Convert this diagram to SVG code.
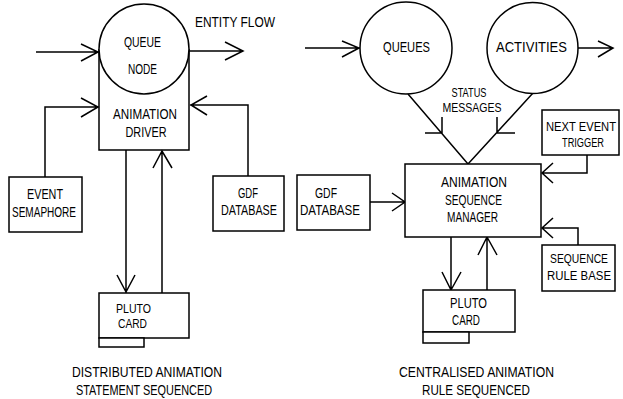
<svg xmlns="http://www.w3.org/2000/svg" width="623" height="399" viewBox="0 0 623 399">
<style>
.s{fill:none;stroke:#000;stroke-width:1.5;stroke-linejoin:miter;stroke-linecap:butt}
.b{fill:#fff;stroke:#000;stroke-width:1.5}
text{font-family:"Liberation Sans Narrow","Liberation Sans",Arial,sans-serif;font-size:15px;fill:#000;text-anchor:middle}
text.t{font-size:13.5px}
text.n{font-size:12px}
text.r{font-size:12.5px}
</style>
<rect width="623" height="399" fill="#fff"/>
<g id="connectors">
<path class="s" d="M36,52 H99 M81,44 L98,52 L81,61"/>
<path class="s" d="M189,51 H243 M225,42 L243,51 L225,60"/>
<path class="s" d="M45,177 V107 H99 M81,98 L98,107 L81,117"/>
<path class="s" d="M248,176 V105 H190 M207,96 L191,105 L207,115"/>
<path class="s" d="M126,150 V293 M117,275 L126,292 L135,275"/>
<path class="s" d="M162,293 V151 M153,168 L162,151 L172,168"/>
<path class="s" d="M305,48 H360 M342,41 L359,48 L342,57"/>
<path class="s" d="M578,48 H613 M598,41 L613,48 L598,57"/>
<path class="s" d="M408,94 L468,164 M442,117 V133 H425"/>
<path class="s" d="M533,93 L468,164 M497,117 V133 H515"/>
<path class="s" d="M587,155 V173 H542 M553,163 L542,173 L553,183"/>
<path class="s" d="M578,245 V228 H542 M553,218 L542,228 L553,238"/>
<path class="s" d="M370,202 H405 M392,193 L405,202 L392,211"/>
<path class="s" d="M451,237 V290 M442,272 L451,290 L461,272"/>
<path class="s" d="M487,290 V237 M478,255 L487,237 L497,255"/>
</g>
<g id="entity-flow-label"><text x="235" y="27" textLength="80" lengthAdjust="spacingAndGlyphs">ENTITY FLOW</text></g>
<g id="status-messages-label">
<text class="t" x="469" y="97" textLength="35" lengthAdjust="spacingAndGlyphs">STATUS</text>
<text class="t" x="472" y="112" textLength="59" lengthAdjust="spacingAndGlyphs">MESSAGES</text>
</g>
<g id="animation-driver">
<path class="s" d="M99,49 V150 H189 V49"/>
<text x="145" y="119" textLength="64" lengthAdjust="spacingAndGlyphs">ANIMATION</text>
<text x="146" y="137" textLength="41" lengthAdjust="spacingAndGlyphs">DRIVER</text>
</g>
<g id="queue-node">
<circle class="b" cx="144" cy="49" r="45"/>
<text x="142.5" y="47" textLength="37" lengthAdjust="spacingAndGlyphs">QUEUE</text>
<text x="142.5" y="74" textLength="29" lengthAdjust="spacingAndGlyphs">NODE</text>
</g>
<g id="event-semaphore">
<rect class="b" x="9" y="177" width="73" height="55"/>
<text x="45" y="199" textLength="36" lengthAdjust="spacingAndGlyphs">EVENT</text>
<text x="44" y="217" textLength="64" lengthAdjust="spacingAndGlyphs">SEMAPHORE</text>
</g>
<g id="gdf-database-left">
<rect class="b" x="213" y="176" width="71" height="55"/>
<text x="248" y="198" textLength="20" lengthAdjust="spacingAndGlyphs">GDF</text>
<text x="249" y="215" textLength="56" lengthAdjust="spacingAndGlyphs">DATABASE</text>
</g>
<g id="pluto-card-left">
<rect class="b" x="99" y="293" width="90" height="45"/>
<rect class="b" x="99" y="338" width="45" height="9"/>
<text class="t" x="133.5" y="313" textLength="35" lengthAdjust="spacingAndGlyphs">PLUTO</text>
<text class="t" x="132.5" y="328" textLength="29" lengthAdjust="spacingAndGlyphs">CARD</text>
</g>
<g id="caption-left">
<text x="147" y="377" textLength="150" lengthAdjust="spacingAndGlyphs">DISTRIBUTED ANIMATION</text>
<text x="144" y="395" textLength="136" lengthAdjust="spacingAndGlyphs">STATEMENT SEQUENCED</text>
</g>
<g id="queues">
<circle class="b" cx="406" cy="48" r="46"/>
<text x="406.5" y="52" textLength="47" lengthAdjust="spacingAndGlyphs">QUEUES</text>
</g>
<g id="activities">
<circle class="b" cx="532.5" cy="48" r="45.5"/>
<text x="531.5" y="52" textLength="71" lengthAdjust="spacingAndGlyphs">ACTIVITIES</text>
</g>
<g id="animation-sequence-manager">
<rect class="b" x="405" y="164" width="136" height="73"/>
<text x="474" y="187" textLength="66" lengthAdjust="spacingAndGlyphs">ANIMATION</text>
<text x="473.5" y="205" textLength="57" lengthAdjust="spacingAndGlyphs">SEQUENCE</text>
<text x="472.5" y="222" textLength="51" lengthAdjust="spacingAndGlyphs">MANAGER</text>
</g>
<g id="gdf-database-right">
<rect class="b" x="297" y="175" width="73" height="55"/>
<text x="326" y="198" textLength="22" lengthAdjust="spacingAndGlyphs">GDF</text>
<text x="330" y="215" textLength="60" lengthAdjust="spacingAndGlyphs">DATABASE</text>
</g>
<g id="next-event-trigger">
<rect class="b" x="542" y="110" width="77" height="45"/>
<text class="n" x="581" y="131" textLength="70" lengthAdjust="spacingAndGlyphs">NEXT EVENT</text>
<text class="n" x="583" y="147" textLength="42" lengthAdjust="spacingAndGlyphs">TRIGGER</text>
</g>
<g id="sequence-rule-base">
<rect class="b" x="542" y="245" width="73" height="46"/>
<text class="r" x="579" y="263" textLength="58" lengthAdjust="spacingAndGlyphs">SEQUENCE</text>
<text class="r" x="579" y="280" textLength="64" lengthAdjust="spacingAndGlyphs">RULE BASE</text>
</g>
<g id="pluto-card-right">
<rect class="b" x="423" y="290" width="92" height="42"/>
<rect class="b" x="423" y="332" width="46" height="11"/>
<text x="468.5" y="308" textLength="37" lengthAdjust="spacingAndGlyphs">PLUTO</text>
<text x="466" y="325" textLength="28" lengthAdjust="spacingAndGlyphs">CARD</text>
</g>
<g id="caption-right">
<text x="476.5" y="377" textLength="155" lengthAdjust="spacingAndGlyphs">CENTRALISED ANIMATION</text>
<text x="476" y="395" textLength="108" lengthAdjust="spacingAndGlyphs">RULE SEQUENCED</text>
</g>
</svg>
